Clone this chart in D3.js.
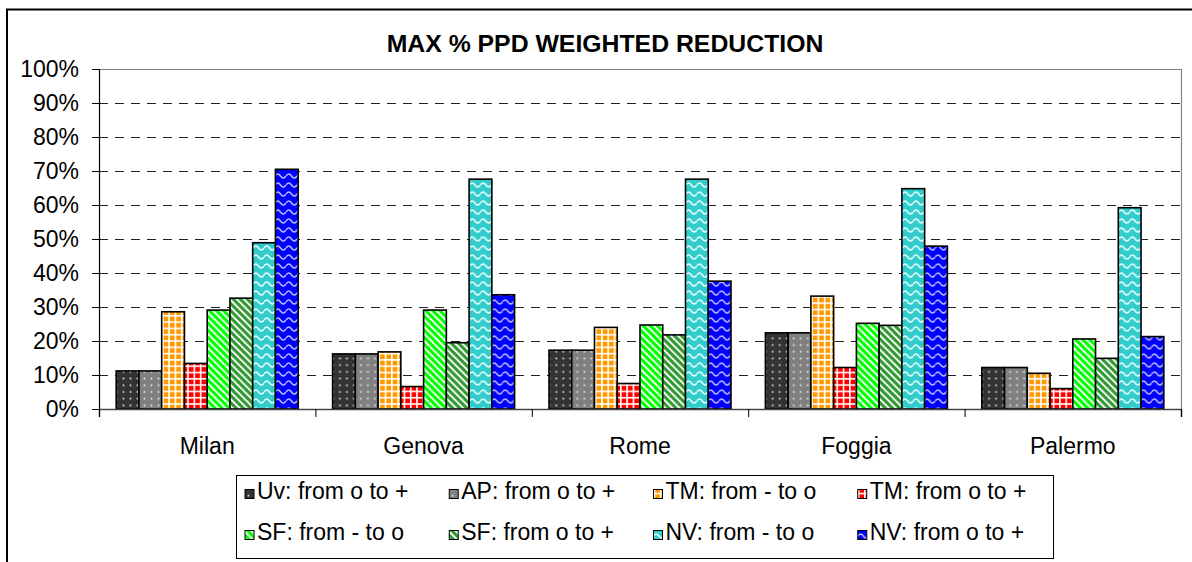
<!DOCTYPE html>
<html>
<head>
<meta charset="utf-8">
<script src="https://cdn.jsdelivr.net/npm/d3@7"></script>
<style>
  body { margin: 0; background: #fff; }
  svg { display: block; font-family: "Liberation Sans", Arial, sans-serif; }
</style>
</head>
<body>
<svg id="chart" width="1192" height="562"></svg>
<script>
var cities = ["Milan", "Genova", "Rome", "Foggia", "Palermo"];
var seriesNames = ["Uv: from o to +", "AP: from o to +", "TM: from - to o", "TM: from o to +",
                   "SF: from - to o", "SF: from o to +", "NV: from - to o", "NV: from o to +"];
var uvPlus  = [11.2, 16.2, 17.3, 22.4, 12.2];
var apPlus  = [11.2, 16.2, 17.3, 22.4, 12.2];
var tmMinus = [28.6, 16.8, 24.0, 33.2, 10.5];
var tmPlus  = [13.4, 6.6, 7.5, 12.2, 6.0];
var sfMinus = [29.1, 29.1, 24.7, 25.2, 20.6];
var sfPlus  = [32.6, 19.5, 21.8, 24.6, 14.9];
var nvMinus = [48.9, 67.6, 67.6, 64.8, 59.2];
var nvPlus  = [70.5, 33.6, 37.6, 47.9, 21.3];
var yTicks = [0, 0.1, 0.2, 0.3, 0.4, 0.5, 0.6, 0.7, 0.8, 0.9, 1];

var allValues = [uvPlus, apPlus, tmMinus, tmPlus, sfMinus, sfPlus, nvMinus, nvPlus];

// pattern style per series: kind, base colour, mark colour
var looks = [
  {kind: "dots",  color: "#333333", mark: "#dddddd"},
  {kind: "dots",  color: "#808080", mark: "#e6e6e6"},
  {kind: "plaid", color: "#ff9900", mark: "#ffffff"},
  {kind: "plaid", color: "#ff0000", mark: "#ffffff"},
  {kind: "diag",  color: "#00ff00", mark: "#ffffff"},
  {kind: "diag",  color: "#339933", mark: "#ffffff"},
  {kind: "wave",  color: "#33cccc", mark: "#e8ffff"},
  {kind: "wave",  color: "#0000ff", mark: "#b8b8ff"}
];

var svg = d3.select("#chart");
var defs = svg.append("defs");

looks.forEach(function (l, i) {
  var p = defs.append("pattern").attr("id", "pat" + i).attr("patternUnits", "userSpaceOnUse");
  if (l.kind == "dots") {
    p.attr("width", 7).attr("height", 6.7);
    p.append("rect").attr("width", 7).attr("height", 6.7).attr("fill", l.color);
    p.append("circle").attr("cx", 3.5).attr("cy", 3.3).attr("r", 1).attr("fill", l.mark);
  } else if (l.kind == "plaid") {
    p.attr("width", 6.3).attr("height", 6.3);
    p.append("rect").attr("width", 6.3).attr("height", 6.3).attr("fill", l.color);
    p.append("path").attr("d", "M0,0.8H6.3M0.8,0V6.3").attr("stroke", l.mark).attr("stroke-width", 1.6);
  } else if (l.kind == "diag") {
    p.attr("width", 5).attr("height", 5).attr("patternTransform", "rotate(-45)");
    p.append("rect").attr("width", 5).attr("height", 5).attr("fill", l.color);
    p.append("rect").attr("width", 1.8).attr("height", 5).attr("fill", l.mark);
  } else {
    p.attr("width", 11).attr("height", 9);
    p.append("rect").attr("width", 11).attr("height", 9).attr("fill", l.color);
    p.append("path").attr("d", "M0,5 Q2.75,1 5.5,5 T11,5").attr("fill", "none")
      .attr("stroke", l.mark).attr("stroke-width", 1.5);
  }
});

// outer chart border
svg.append("rect").attr("x", 7).attr("y", 9.5).attr("width", 1200).attr("height", 600)
  .attr("fill", "none").attr("stroke", "#000").attr("stroke-width", 2);

var plot = {left: 99, right: 1181, top: 69, bottom: 409};

var y = d3.scaleLinear().domain([0, 1]).range([plot.bottom, plot.top]);
var x = d3.scaleBand().domain(cities).range([plot.left, plot.right]).paddingInner(0);
var gap = 17.2;
var x1 = d3.scaleBand().domain(d3.range(seriesNames.length))
  .range([gap, x.bandwidth() - gap]).paddingInner(0);

// gridlines
svg.append("g").selectAll("line")
  .data(yTicks.filter(function (t) { return t > 0 && t < 1; }))
  .enter().append("line")
  .attr("x1", plot.left).attr("x2", plot.right)
  .attr("y1", function (d) { return Math.round(y(d)) + 0.5; })
  .attr("y2", function (d) { return Math.round(y(d)) + 0.5; })
  .attr("stroke", "#222").attr("stroke-width", 1.2).attr("stroke-dasharray", "9,7");

// plot frame (top & right grey)
svg.append("path")
  .attr("d", "M" + plot.left + "," + (plot.top + 0.5) + "H" + (plot.right + 0.5) + "V" + plot.bottom)
  .attr("fill", "none").attr("stroke", "#808080").attr("stroke-width", 1.2);

// bars
var groups = svg.append("g").selectAll("g")
  .data(cities).enter().append("g")
  .attr("transform", function (d) { return "translate(" + x(d) + ",0)"; });

groups.selectAll("rect")
  .data(function (c, ci) {
    return allValues.map(function (vals, si) { return {s: si, v: vals[ci] / 100}; });
  })
  .enter().append("rect")
  .attr("x", function (d) { return x1(d.s); })
  .attr("y", function (d) { return y(d.v); })
  .attr("width", x1.bandwidth())
  .attr("height", function (d) { return plot.bottom - y(d.v); })
  .attr("fill", function (d) { return "url(#pat" + d.s + ")"; })
  .attr("stroke", "#000").attr("stroke-width", 1.6);

// y axis
var yAxis = svg.append("g")
  .attr("transform", "translate(" + plot.left + ",0)")
  .call(d3.axisLeft(y).tickValues(yTicks).tickFormat(d3.format(".0%")).tickSize(7).tickPadding(13));
yAxis.selectAll("text").style("font-size", "23px").attr("fill", "#000");
yAxis.select(".domain").attr("stroke", "#000").attr("stroke-width", 1.2);
yAxis.selectAll(".tick line").attr("stroke", "#000");

// x axis: boundary ticks
var xb = d3.scaleLinear().domain([0, cities.length]).range([plot.left, plot.right]);
var xTickAxis = svg.append("g")
  .attr("transform", "translate(0," + plot.bottom + ")")
  .call(d3.axisBottom(xb).ticks(cities.length).tickSize(8).tickFormat(""));
xTickAxis.select(".domain").attr("stroke", "#444").attr("stroke-width", 1.5);
xTickAxis.selectAll(".tick line").attr("stroke", "#000");

var xLabels = svg.append("g")
  .attr("transform", "translate(0," + plot.bottom + ")")
  .call(d3.axisBottom(x).tickSize(0).tickPadding(29));
xLabels.select(".domain").remove();
xLabels.selectAll("text").style("font-size", "23px").attr("fill", "#000");

// title
svg.append("text")
  .attr("x", 605).attr("y", 52)
  .attr("text-anchor", "middle")
  .style("font-size", "24.8px").style("font-weight", "bold")
  .text("MAX % PPD WEIGHTED REDUCTION");

// legend
var legend = svg.append("g");
legend.append("rect").attr("x", 236.5).attr("y", 475.5).attr("width", 817).attr("height", 83)
  .attr("fill", "#fff").attr("stroke", "#000").attr("stroke-width", 1);

var colX = d3.scaleLinear().domain([0, 4]).range([245, 1062]);
var rowY = d3.scaleLinear().domain([0, 1]).range([499, 540]);

var items = legend.selectAll("g.item")
  .data(seriesNames).enter().append("g").attr("class", "item")
  .attr("transform", function (d, i) {
    return "translate(" + colX(i % 4) + "," + rowY(Math.floor(i / 4)) + ")";
  });
items.append("rect").attr("x", 0).attr("y", -9.5).attr("width", 9).attr("height", 9)
  .attr("fill", function (d, i) { return "url(#pat" + i + ")"; })
  .attr("stroke", "#000").attr("stroke-width", 1);
items.append("text").attr("x", 12).attr("y", 0)
  .style("font-size", "23px")
  .text(function (d) { return d; });
</script>
</body>
</html>
